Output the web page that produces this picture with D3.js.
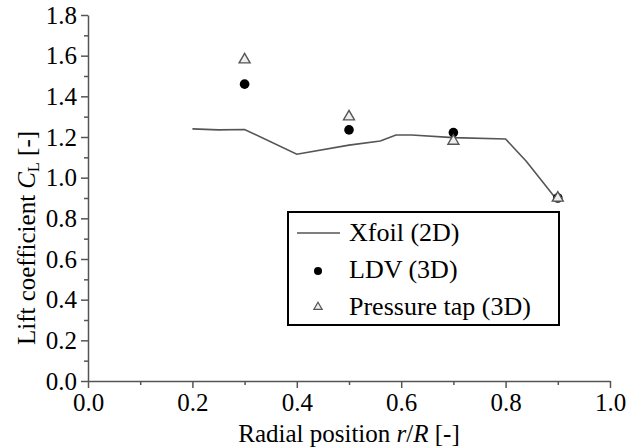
<!DOCTYPE html>
<html>
<head>
<meta charset="utf-8">
<script src="https://cdn.jsdelivr.net/npm/d3@7"></script>
</head>
<body style="margin:0">
<svg id="chart" width="639" height="448" font-family="Liberation Serif"></svg>
<script>
// Xfoil (2D) curve
var xfoilR  = [0.2, 0.25, 0.3, 0.4, 0.5, 0.56, 0.59, 0.62, 0.7, 0.8, 0.84, 0.9];
var xfoilCL = [1.24, 1.235, 1.237, 1.115, 1.16, 1.18, 1.21, 1.21, 1.197, 1.19, 1.08, 0.885];

// LDV (3D)
var ldvR  = [0.3, 0.5, 0.7, 0.9];
var ldvCL = [1.46, 1.235, 1.222, 0.9];

// Pressure tap (3D)
var tapR  = [0.3, 0.5, 0.7, 0.9];
var tapCL = [1.58, 1.30, 1.18, 0.9];

var xTicks = [0, 0.2, 0.4, 0.6, 0.8, 1.0];
var yTicks = [0, 0.2, 0.4, 0.6, 0.8, 1.0, 1.2, 1.4, 1.6, 1.8];

var svg = d3.select('#chart');
var x = d3.scaleLinear().domain([0, 1]).range([88, 610]);
var y = d3.scaleLinear().domain([0, 1.8]).range([381, 15]);
var axisColor = '#555';
var fontSize = 25;
var fontName = 'Liberation Serif';

var xMinor = d3.range(0.1, 1.0, 0.2);
var yMinor = d3.range(0.1, 1.8, 0.2);

var gx = svg.append('g').attr('transform', 'translate(0,' + y(0) + ')')
    .call(d3.axisBottom(x).tickValues(xTicks).tickFormat(d3.format('.1f')).tickSizeInner(7).tickSizeOuter(0).tickPadding(5));
gx.append('g').call(d3.axisBottom(x).tickValues(xMinor).tickFormat('').tickSizeInner(4).tickSizeOuter(0))
  .select('.domain').remove();

var gy = svg.append('g').attr('transform', 'translate(' + x(0) + ',0)')
    .call(d3.axisLeft(y).tickValues(yTicks).tickFormat(d3.format('.1f')).tickSizeInner(7).tickSizeOuter(0).tickPadding(4));
gy.append('g').call(d3.axisLeft(y).tickValues(yMinor).tickFormat('').tickSizeInner(4).tickSizeOuter(0))
  .select('.domain').remove();

svg.selectAll('g').attr('font-family', fontName).attr('font-size', fontSize);
svg.selectAll('.domain, .tick line').attr('stroke', axisColor).attr('stroke-width', 1.5);
svg.selectAll('.tick text').attr('font-family', fontName).attr('font-size', fontSize).attr('fill', '#000');

// axis titles
var xt = svg.append('text').attr('x', 349).attr('y', 442).attr('text-anchor', 'middle')
    .attr('font-size', fontSize).attr('font-family', fontName);
xt.append('tspan').text('Radial position ');
xt.append('tspan').attr('font-style', 'italic').text('r');
xt.append('tspan').text('/');
xt.append('tspan').attr('font-style', 'italic').text('R');
xt.append('tspan').text(' [-]');

var yt = svg.append('text').attr('transform', 'translate(35,238) rotate(-90)')
    .attr('text-anchor', 'middle').attr('font-size', fontSize).attr('font-family', fontName);
yt.append('tspan').text('Lift coefficient ');
yt.append('tspan').attr('font-style', 'italic').text('C');
yt.append('tspan').attr('font-size', 16).attr('dy', 4).text('L');
yt.append('tspan').attr('dy', -4).text(' [-]');

// Xfoil line
var xfoil = xfoilR.map(function(r, i) { return [r, xfoilCL[i]]; });
svg.append('path').datum(xfoil)
  .attr('fill', 'none').attr('stroke', '#555').attr('stroke-width', 1.6)
  .attr('d', d3.line().x(function(d) { return x(d[0]); }).y(function(d) { return y(d[1]); }));

// LDV circles
svg.append('g').selectAll('circle').data(ldvR).enter().append('circle')
  .attr('cx', function(d) { return x(d); })
  .attr('cy', function(d, i) { return y(ldvCL[i]); })
  .attr('r', 4.8).attr('fill', '#000');

// Pressure tap triangles
var tri = d3.symbol().type(d3.symbolTriangle).size(52);
svg.append('g').selectAll('path').data(tapR).enter().append('path')
  .attr('d', tri)
  .attr('transform', function(d, i) { return 'translate(' + x(d) + ',' + y(tapCL[i]) + ')'; })
  .attr('fill', '#eee').attr('stroke', '#555').attr('stroke-width', 1.4);

// legend
var lg = svg.append('g');
lg.append('rect').attr('x', 288).attr('y', 212).attr('width', 271).attr('height', 113)
  .attr('fill', '#fff').attr('stroke', '#000').attr('stroke-width', 2);
lg.append('line').attr('x1', 297).attr('x2', 340).attr('y1', 233).attr('y2', 233)
  .attr('stroke', '#555').attr('stroke-width', 1.6);
lg.append('circle').attr('cx', 318).attr('cy', 271).attr('r', 4).attr('fill', '#000');
lg.append('path').attr('d', d3.symbol().type(d3.symbolTriangle).size(30))
  .attr('transform', 'translate(318,307)').attr('fill', '#eee').attr('stroke', '#555').attr('stroke-width', 1.2);
var legendLabels = ['Xfoil (2D)', 'LDV (3D)', 'Pressure tap (3D)'];
lg.selectAll('text.lab').data(legendLabels).enter().append('text')
  .attr('class', 'lab').attr('x', 349)
  .attr('y', function(d, i) { return 241 + i * 37; })
  .attr('font-size', 26).attr('font-family', fontName).text(function(d) { return d; });
</script>
</body>
</html>
